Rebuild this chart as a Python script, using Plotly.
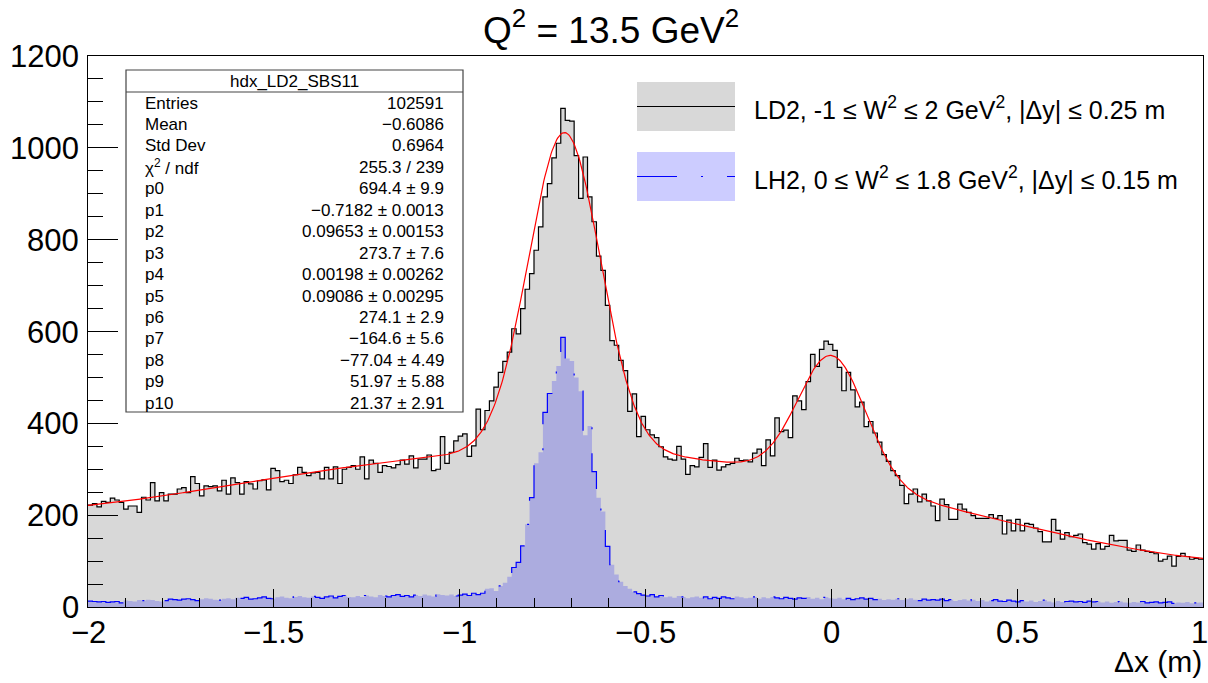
import numpy as np
import plotly.graph_objects as go

# Histogram binning: 250 bins over [-2, 1] m
x_min, x_max, n_bins = -2.0, 1.0, 250

# LD2 counts per bin
ld2_counts = [
    222, 225, 218, 230, 228, 237, 233, 228, 213, 220,
    220, 206, 239, 233, 271, 231, 249, 231, 246, 246,
    257, 260, 249, 284, 269, 242, 264, 262, 264, 253,
    276, 246, 281, 271, 246, 273, 268, 257, 275, 277,
    255, 302, 297, 273, 276, 269, 288, 304, 293, 286,
    292, 293, 279, 304, 279, 305, 269, 300, 304, 308,
    300, 327, 279, 320, 313, 293, 308, 306, 303, 310,
    320, 311, 329, 303, 322, 322, 331, 297, 300, 371,
    313, 337, 362, 372, 377, 328, 351, 431, 386, 428,
    449, 479, 511, 535, 555, 606, 595, 650, 692, 726,
    777, 828, 893, 922, 978, 1010, 1086, 1060, 1058, 983,
    890, 980, 893, 839, 764, 733, 657, 580, 570, 537,
    515, 426, 464, 371, 415, 386, 375, 369, 349, 327,
    322, 320, 350, 322, 289, 308, 305, 326, 356, 304,
    320, 298, 305, 310, 313, 324, 319, 320, 316, 335,
    344, 308, 364, 329, 412, 382, 385, 369, 460, 449,
    430, 491, 550, 524, 561, 579, 572, 559, 522, 471,
    511, 473, 436, 446, 393, 404, 379, 359, 332, 317,
    297, 286, 265, 225, 246, 257, 229, 246, 231, 220,
    188, 235, 223, 191, 191, 224, 213, 206, 199, 193,
    193, 193, 201, 193, 199, 159, 189, 166, 191, 166,
    182, 180, 172, 164, 142, 142, 191, 167, 148, 162,
    153, 156, 159, 140, 137, 126, 138, 126, 132, 156,
    144, 145, 145, 124, 121, 135, 124, 121, 119, 116,
    100, 104, 111, 89, 110, 117, 110, 104, 106, 104,
]

# LH2 counts per bin
lh2_counts = [
    13, 12, 11, 12, 10, 11, 12, 9, 14, 13,
    12, 15, 14, 16, 15, 13, 12, 14, 17, 16,
    15, 17, 18, 16, 14, 17, 19, 18, 16, 15,
    18, 19, 17, 20, 19, 21, 17, 18, 20, 22,
    19, 18, 21, 23, 20, 19, 22, 24, 21, 20,
    23, 21, 19, 22, 24, 20, 23, 25, 22, 21,
    24, 22, 25, 23, 21, 26, 24, 22, 25, 27,
    23, 25, 22, 26, 24, 27, 25, 23, 28, 26,
    25, 27, 24, 26, 28, 25, 30, 27, 30, 40,
    41, 35, 46, 53, 66, 86, 97, 133, 180, 238,
    313, 337, 424, 465, 492, 525, 587, 541, 536, 500,
    470, 374, 394, 295, 238, 208, 132, 92, 71, 55,
    46, 40, 33, 29, 26, 24, 27, 22, 25, 21,
    23, 20, 24, 22, 19, 21, 23, 20, 22, 18,
    21, 19, 22, 20, 18, 23, 21, 19, 20, 22,
    18, 21, 19, 22, 20, 18, 21, 19, 17, 20,
    19, 22, 18, 20, 17, 21, 19, 18, 20, 17,
    19, 16, 18, 20, 17, 19, 16, 18, 15, 17,
    16, 18, 15, 17, 19, 16, 14, 17, 15, 16,
    15, 17, 14, 16, 13, 15, 17, 14, 16, 13,
    15, 12, 14, 16, 13, 12, 15, 13, 11, 14,
    12, 14, 11, 13, 15, 12, 10, 13, 11, 12,
    13, 11, 12, 10, 13, 11, 12, 10, 12, 9,
    11, 12, 10, 9, 11, 10, 12, 9, 10, 11,
    9, 10, 11, 8, 10, 9, 11, 8, 9, 10,
]

# Fit: gaus(p0..p2) + gaus(p3..p5) + pol4(p6..p10)
fit_params = [694.4, -0.7182, 0.09653, 273.7, 0.00198, 0.09086,
              274.1, -164.6, -77.04, 51.97, 21.37]

stats_title = "hdx_LD2_SBS11"
stats_labels = ["Entries", "Mean", "Std Dev", "χ<sup>2</sup> / ndf",
                "p0", "p1", "p2", "p3", "p4", "p5", "p6", "p7", "p8", "p9", "p10"]
stats_values = ["102591", "−0.6086", "0.6964", "255.3 / 239",
                "694.4 ± 9.9", "−0.7182 ± 0.0013", "0.09653 ± 0.00153",
                "273.7 ± 7.6", "0.00198 ± 0.00262", "0.09086 ± 0.00295",
                "274.1 ± 2.9", "−164.6 ± 5.6", "−77.04 ± 4.49",
                "51.97 ± 5.88", "21.37 ± 2.91"]

legend_labels = [
    "LD2, -1 ≤ W<sup>2</sup> ≤ 2 GeV<sup>2</sup>, |Δy| ≤ 0.25 m",
    "LH2, 0 ≤ W<sup>2</sup> ≤ 1.8 GeV<sup>2</sup>, |Δy| ≤ 0.15 m",
]

x_tick_vals = [-2, -1.5, -1, -0.5, 0, 0.5, 1]
x_tick_text = ["−2", "−1.5", "−1", "−0.5", "0", "0.5", "1"]
y_tick_vals = [0, 200, 400, 600, 800, 1000, 1200]
y_tick_text = ["0", "200", "400", "600", "800", "1000", "1200"]

title_text = "Q<sup>2</sup> = 13.5 GeV<sup>2</sup>"
x_title = "Δx (m)"

# ---------------------------------------------------------------- styling
FONT = "Liberation Sans, Arial, Helvetica, sans-serif"
GRAY_FILL = "rgb(216,216,216)"
BLUE_FILL = "rgba(0,0,255,0.2)"
BLUE_DASH = "40px,24px,2px,24px"
TICK_SIZE = 31

W, H = 1208, 683
L, R, T, B = 88, 5, 56, 76
PW, PH = W - L - R, H - T - B


def px(xpix):
    return (xpix - L) / PW


def py(ypix):
    return (H - B - ypix) / PH


edges = np.linspace(x_min, x_max, n_bins + 1)


def step_y(counts):
    return list(counts) + [counts[-1]]


def fit_func(x, p):
    g1 = p[0] * np.exp(-0.5 * ((x - p[1]) / p[2]) ** 2)
    g2 = p[3] * np.exp(-0.5 * ((x - p[4]) / p[5]) ** 2)
    pol = p[6] + p[7] * x + p[8] * x ** 2 + p[9] * x ** 3 + p[10] * x ** 4
    return g1 + g2 + pol


xf = np.linspace(x_min, x_max, 1200)
yf = fit_func(xf, fit_params)

fig = go.Figure()
fig.add_trace(go.Scatter(
    x=edges, y=step_y(ld2_counts), mode="lines", line_shape="hv",
    line=dict(color="black", width=1.2), fill="tozeroy", fillcolor=GRAY_FILL,
    hoverinfo="skip", showlegend=False))
fig.add_trace(go.Scatter(
    x=xf, y=yf, mode="lines", line=dict(color="red", width=1.2),
    hoverinfo="skip", showlegend=False))
fig.add_trace(go.Scatter(
    x=edges, y=step_y(lh2_counts), mode="lines", line_shape="hv",
    line=dict(color="blue", width=1.2, dash=BLUE_DASH), fill="tozeroy",
    fillcolor=BLUE_FILL, hoverinfo="skip", showlegend=False))

shapes = []
annotations = []

# stats box
box_l, box_r, box_t, box_b, head_b = 126, 463, 70, 412, 92
shapes.append(dict(type="rect", xref="paper", yref="paper",
                   x0=px(box_l), x1=px(box_r), y0=py(box_b), y1=py(box_t),
                   line=dict(color="#444", width=1.2), fillcolor="white",
                   layer="above"))
shapes.append(dict(type="line", xref="paper", yref="paper",
                   x0=px(box_l), x1=px(box_r), y0=py(head_b), y1=py(head_b),
                   line=dict(color="#444", width=1.2), layer="above"))
annotations.append(dict(text=stats_title, xref="paper", yref="paper",
                        x=px((box_l + box_r) / 2), y=py(81), showarrow=False,
                        xanchor="center", yanchor="middle",
                        font=dict(family=FONT, size=17, color="black")))
row0, row_h = 103, 21.45
for k, (lab, val) in enumerate(zip(stats_labels, stats_values)):
    yy = py(row0 + k * row_h)
    annotations.append(dict(text=lab, xref="paper", yref="paper", x=px(143), y=yy,
                            showarrow=False, xanchor="left", yanchor="middle",
                            font=dict(family=FONT, size=17, color="black")))
    annotations.append(dict(text=val, xref="paper", yref="paper", x=px(446), y=yy,
                            showarrow=False, xanchor="right", yanchor="middle",
                            font=dict(family=FONT, size=17, color="black")))

# legend entries
leg_l, leg_r = 637, 735
leg_rows = [(82, 131, GRAY_FILL, "black", "solid"),
            (152, 201, BLUE_FILL, "blue", BLUE_DASH)]
for (top, bot, fc, lc, dash), lab in zip(leg_rows, legend_labels):
    shapes.append(dict(type="rect", xref="paper", yref="paper",
                       x0=px(leg_l), x1=px(leg_r), y0=py(bot), y1=py(top),
                       line=dict(width=0), fillcolor=fc, layer="above"))
    mid = (top + bot) / 2
    shapes.append(dict(type="line", xref="paper", yref="paper",
                       x0=px(leg_l), x1=px(leg_r), y0=py(mid), y1=py(mid),
                       line=dict(color=lc, width=1.2, dash=dash), layer="above"))
    annotations.append(dict(text=lab, xref="paper", yref="paper", x=px(752), y=py(mid + 1),
                            showarrow=False, xanchor="left", yanchor="middle",
                            font=dict(family=FONT, size=25, color="black")))

# axis tick labels
for v, t in zip(x_tick_vals, x_tick_text):
    annotations.append(dict(text=t, xref="x", yref="paper", x=v, y=py(632),
                            showarrow=False, xanchor="center", yanchor="middle",
                            height=24, valign="middle",
                            xshift=-4 if v == x_max else 0,
                            font=dict(family=FONT, size=TICK_SIZE, color="black")))
for v, t in zip(y_tick_vals, y_tick_text):
    annotations.append(dict(text=t, xref="paper", yref="y", x=px(81), y=v,
                            showarrow=False, xanchor="right", yanchor="middle",
                            height=24, valign="middle",
                            font=dict(family=FONT, size=TICK_SIZE, color="black")))

# title and x-axis title
annotations.append(dict(text=title_text, xref="paper", yref="paper",
                        x=px(611), y=py(27), showarrow=False,
                        xanchor="center", yanchor="middle",
                        font=dict(family=FONT, size=37, color="black")))
annotations.append(dict(text=x_title, xref="paper", yref="paper",
                        x=px(1204), y=py(661), showarrow=False,
                        xanchor="right", yanchor="middle",
                        font=dict(family=FONT, size=30, color="black")))

fig.update_layout(
    width=W, height=H,
    margin=dict(l=L, r=R, t=T, b=B, pad=0),
    paper_bgcolor="white", plot_bgcolor="white",
    shapes=shapes, annotations=annotations,
    showlegend=False,
    xaxis=dict(range=[x_min, x_max], showgrid=False, zeroline=False,
               showline=True, linecolor="black", linewidth=1.2, mirror=True,
               ticks="inside", ticklen=18, tickwidth=1, tickcolor="black",
               tick0=-2, dtick=0.5, showticklabels=False,
               minor=dict(ticks="inside", ticklen=9, tick0=-2, dtick=0.1,
                          tickcolor="black", tickwidth=1)),
    yaxis=dict(range=[0, 1200], showgrid=False, zeroline=False,
               showline=True, linecolor="black", linewidth=1.2, mirror=True,
               ticks="inside", ticklen=30, tickwidth=1, tickcolor="black",
               tick0=0, dtick=200, showticklabels=False,
               minor=dict(ticks="inside", ticklen=15, tick0=0, dtick=50,
                          tickcolor="black", tickwidth=1)),
)

fig.write_html("out.html")
